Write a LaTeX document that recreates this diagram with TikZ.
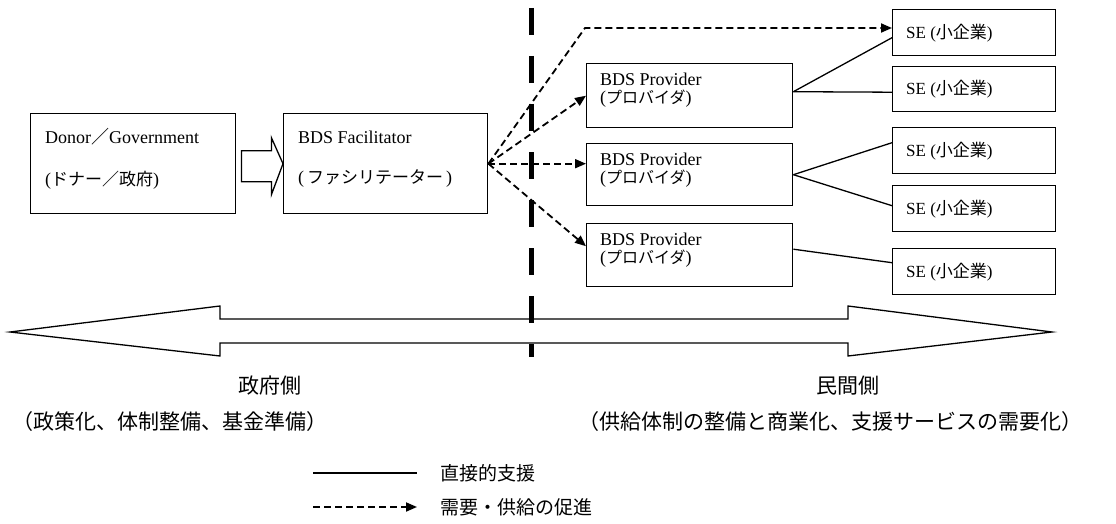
\documentclass[tikz,border=0pt]{standalone}
\usepackage{fontspec}
\setmainfont{Liberation Serif}
\newfontfamily\jp{Noto Sans CJK JP}
\usetikzlibrary{arrows.meta,calc}
\begin{document}
\begin{tikzpicture}[x=1pt,y=-1pt,
  box/.style={draw, line width=1.4pt, anchor=north west, inner sep=0pt},
  lbl/.style={anchor=west, inner sep=0pt, font=\fontsize{18}{20}\selectfont},
  direct/.style={line width=1.3pt},
  promo/.style={line width=1.8pt, dash pattern=on 7pt off 4pt, -{Triangle[length=11pt,width=9pt]}},
  bigtxt/.style={inner sep=0pt, font=\fontsize{21}{23}\selectfont\jp}
]
\useasboundingbox (0,0) rectangle (1116,524);
% boxes
\node[box, minimum width=205pt, minimum height=100pt] (donor) at (30,113) {};
\node[box, minimum width=204pt, minimum height=100pt] (fac) at (283,113) {};
\node[box, minimum width=206pt, minimum height=64pt] (p1) at (586,63) {};
\node[box, minimum width=206pt, minimum height=62pt] (p2) at (586,143) {};
\node[box, minimum width=206pt, minimum height=63pt] (p3) at (586,223) {};
\node[box, minimum width=163pt, minimum height=46pt] (s1) at (892,9) {};
\node[box, minimum width=163pt, minimum height=45pt] (s2) at (892,66) {};
\node[box, minimum width=163pt, minimum height=46pt] (s3) at (892,127) {};
\node[box, minimum width=163pt, minimum height=46pt] (s4) at (892,185) {};
\node[box, minimum width=163pt, minimum height=46pt] (s5) at (892,248) {};
% texts
\node[lbl] (donorA) at (45,137) {Donor{\jp ／}Government};
\node[lbl] (donorB) at (45,180) {({\jp\fontsize{17}{19}\selectfont ドナー／政府})};
\node[lbl] (facA) at (298,137) {BDS Facilitator};
\node[lbl] (facB) at (298,178) {(\,{\jp\fontsize{17}{19}\selectfont ファシリテーター}\,)};
\foreach \p in {p1,p2,p3}{
  \node[lbl] (\p A) at ($(\p.north west)+(14,16)$) {BDS Provider};
  \node[lbl] (\p B) at ($(\p.north west)+(14,36)$) {({\jp\fontsize{16}{18}\selectfont プロバイダ})};
}
\foreach \s in {s1,s2,s3,s4,s5}{
  \node[lbl, font=\fontsize{17}{19}\selectfont] (\s T) at ($(\s.west)+(14,0)$) {SE ({\jp 小企業})};
}
% hollow arrow
\draw[line width=1.3pt, fill=white] ($(donor.east)+(5,-13)$) coordinate (ha1) -- ++(30,0) -- ++(0,-13) -- (fac.west) -- ($(ha1)+(30,44)$) -- ++(0,-13) -- ++(-30,0) -- cycle;
% big double arrow
\draw[line width=1.3pt] (10,332) coordinate (lt) -- (220,306) -- (220,319) -- (848,319) -- (848,306) -- (1052,332) coordinate (rt) -- (848,356) -- (848,343) -- (220,343) -- (220,356) -- cycle;
% divider
\coordinate (dtop) at (531,8);
\coordinate (dbot) at (531,357);
\draw[line width=5pt, dash pattern=on 27pt off 21pt] (dtop) -- (dbot);
% promotion arrows
\draw[promo] (fac.east) -- (p1.west);
\draw[promo] (fac.east) -- (p2.west |- fac.east);
\draw[promo] (fac.east) -- ($(p3.west)+(0,-9)$);
\coordinate (bend) at (585,28);
\draw[promo] (fac.east) -- (bend) -- (s1.west |- bend);
% direct lines
\draw[direct] ($(p1.east)+(0,-4)$) -- ($(s1.west)+(0,5)$);
\draw[direct] ($(p1.east)+(0,-4)$) -- ($(s2.west)+(0,3)$);
\draw[direct] (p2.east) -- ($(s3.west)+(0,-8)$);
\draw[direct] (p2.east) -- ($(s4.west)+(0,-3)$);
\draw[direct] ($(p3.east)+(0,-6)$) -- ($(s5.west)+(0,-9)$);
% bottom labels
\node[bigtxt] (gov1) at (270,386) {政府側};
\node[bigtxt] (gov2) at (170,422) {（政策化、体制整備、基金準備）};
\node[bigtxt] (pri1) at (848,386) {民間側};
\node[bigtxt] (pri2) at (830,422) {（供給体制の整備と商業化、支援サービスの需要化）};
% legend
\coordinate (la) at (313,473);
\coordinate (lb) at (417,473);
\coordinate (lc) at (313,507);
\coordinate (ld) at (417,507);
\draw[direct] (la) -- (lb);
\draw[promo] (lc) -- (ld);
\node[anchor=west, inner sep=0pt, font=\fontsize{19}{21}\selectfont\jp] (leg1) at (440,473) {直接的支援};
\node[anchor=west, inner sep=0pt, font=\fontsize{19}{21}\selectfont\jp] (leg2) at (440,507) {需要・供給の促進};
\end{tikzpicture}
\end{document}
